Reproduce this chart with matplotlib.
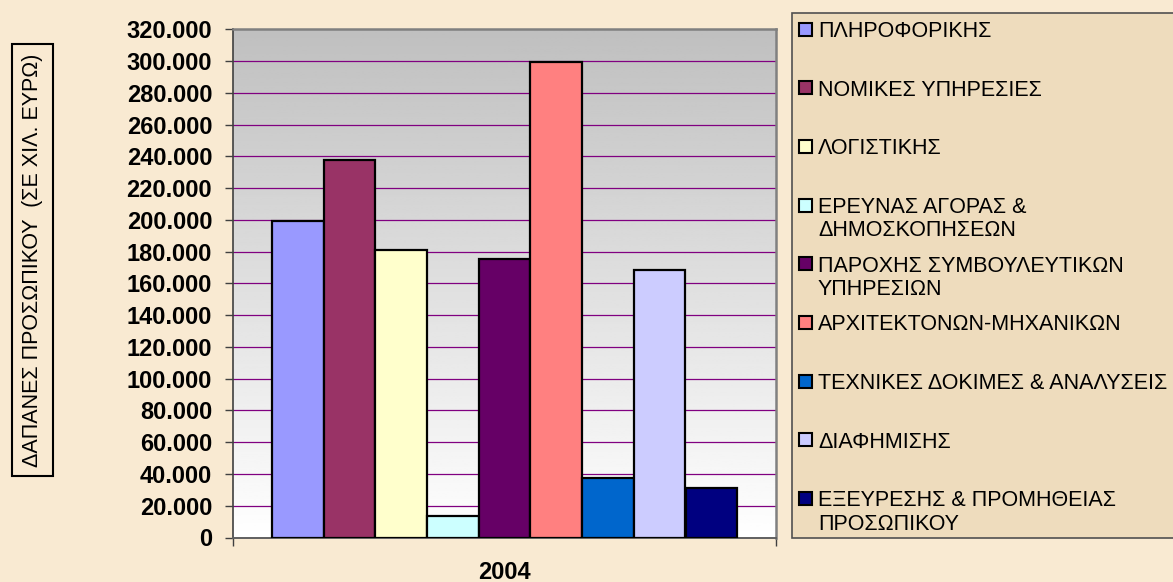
import matplotlib

matplotlib.use("Agg")
import matplotlib.pyplot as plt
import numpy as np
from matplotlib.patches import Rectangle

plt.rcParams["font.family"] = ["Liberation Sans", "DejaVu Sans"]

YEAR = "2004"
CATEGORIES = [
    "ΠΛΗΡΟΦΟΡΙΚΗΣ",
    "ΝΟΜΙΚΕΣ ΥΠΗΡΕΣΙΕΣ",
    "ΛΟΓΙΣΤΙΚΗΣ",
    "ΕΡΕΥΝΑΣ ΑΓΟΡΑΣ &\nΔΗΜΟΣΚΟΠΗΣΕΩΝ",
    "ΠΑΡΟΧΗΣ ΣΥΜΒΟΥΛΕΥΤΙΚΩΝ\nΥΠΗΡΕΣΙΩΝ",
    "ΑΡΧΙΤΕΚΤΟΝΩΝ-ΜΗΧΑΝΙΚΩΝ",
    "ΤΕΧΝΙΚΕΣ ΔΟΚΙΜΕΣ & ΑΝΑΛΥΣΕΙΣ",
    "ΔΙΑΦΗΜΙΣΗΣ",
    "ΕΞΕΥΡΕΣΗΣ & ΠΡΟΜΗΘΕΙΑΣ\nΠΡΟΣΩΠΙΚΟΥ",
]
VALUES = [199600, 237800, 181100, 13700, 175200, 299100, 37500, 168500, 31000]
COLORS = [
    "#9999FF", "#993366", "#FFFFCC", "#CCFFFF", "#660066",
    "#FF8080", "#0066CC", "#CCCCFF", "#000080",
]
Y_TICKS = list(range(0, 320001, 20000))
Y_LABEL = "ΔΑΠΑΝΕΣ ΠΡΟΣΩΠΙΚΟΥ  (ΣΕ ΧΙΛ. ΕΥΡΩ)"

W, H = 1173, 582
fig = plt.figure(figsize=(W / 100, H / 100), dpi=100, facecolor="#F9EAD2")

# plot area in pixels
left, right, top, bottom = 233, 776, 29.3, 537.5
ax = fig.add_axes([left / W, 1 - bottom / H, (right - left) / W, (bottom - top) / H])

# grey (top) -> white (bottom) gradient
grad = np.linspace(0.75, 1.0, 256).reshape(-1, 1)
ax.imshow(grad, cmap="gray", vmin=0, vmax=1, aspect="auto",
          extent=(0, 1, 0, 1), transform=ax.transAxes, zorder=0)

x = np.arange(len(VALUES))
ax.bar(x, VALUES, width=1.0, color=COLORS, edgecolor="black", linewidth=1.6, zorder=3)

ax.set_xlim(-1.25, len(VALUES) - 1 + 1.25)
ax.set_ylim(0, 320000)
ax.set_yticks(Y_TICKS)
ax.set_yticklabels([f"{v:,}".replace(",", ".") for v in Y_TICKS],
                   fontsize=17, fontweight="bold")
for v in Y_TICKS[1:-1]:
    ax.axhline(v, color="#800080", linewidth=0.9, zorder=1)

ax.set_xticks([(len(VALUES) - 1) / 2])
ax.set_xticklabels([YEAR], fontsize=17, fontweight="bold")
ax.tick_params(axis="x", which="major", length=0, pad=17)
ax.set_xticks([-1.25, len(VALUES) - 1 + 1.25], minor=True)
ax.tick_params(axis="x", which="minor", length=6, width=1, direction="out", color="#404040")
ax.tick_params(axis="y", length=6, width=1, direction="out", pad=9, color="#404040")

for side in ("top", "right"):
    ax.spines[side].set_color("#808080")
    ax.spines[side].set_linewidth(1.8)
ax.spines["left"].set_color("#404040")
ax.spines["bottom"].set_color("#606060")
ax.spines["left"].set_linewidth(1.2)
ax.spines["bottom"].set_linewidth(1.4)

# y label in a box
fig.text(32.5 / W, 1 - 260 / H, Y_LABEL, rotation=90, ha="center", va="center",
         fontsize=15.5,
         bbox=dict(boxstyle="square,pad=0.45", facecolor="none", edgecolor="black", linewidth=1.5))

# legend box
fig.patches.append(Rectangle((791.5 / W, 1 - 538 / H), (1185 - 791.5) / W, (538 - 12.5) / H,
                             transform=fig.transFigure, facecolor="#EEDCBD",
                             edgecolor="#505050", linewidth=1.2, zorder=1))
first_y = 29.3
step = 58.65
line_gap = 23.5
cap = 0.716 * 15.5 * 100 / 72
for i, (name, color) in enumerate(zip(CATEGORIES, COLORS)):
    yc = first_y + i * step
    fig.patches.append(Rectangle((798.5 / W, 1 - (yc + 6.5) / H), 13 / W, 13 / H,
                                 transform=fig.transFigure, facecolor=color,
                                 edgecolor="black", linewidth=1.5, zorder=2))
    for j, line in enumerate(name.split("\n")):
        fig.text(818 / W, 1 - (yc + cap / 2 + j * line_gap) / H, line,
                 ha="left", va="baseline", fontsize=15.5, zorder=3)

fig.savefig("out.png", dpi=100, facecolor=fig.get_facecolor())
